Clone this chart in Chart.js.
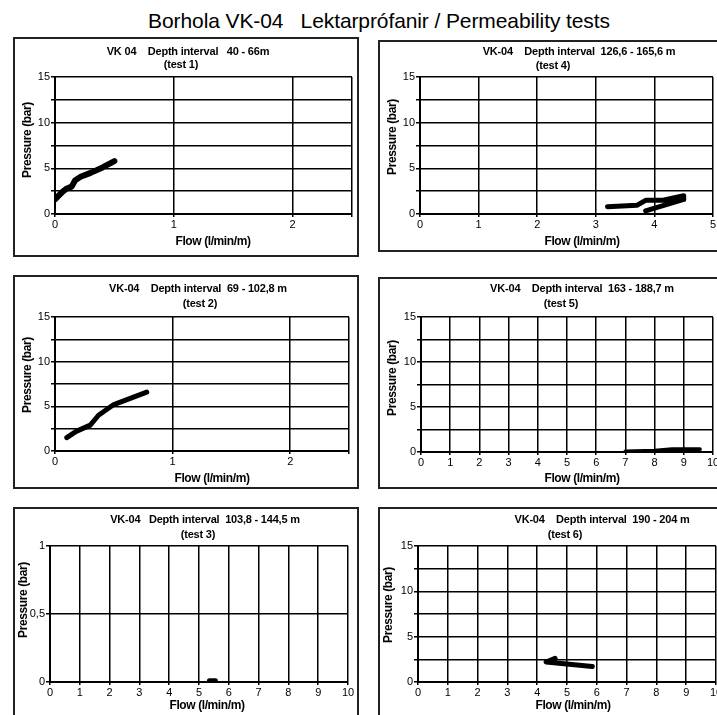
<!DOCTYPE html>
<html><head><meta charset="utf-8">
<script src="https://cdn.jsdelivr.net/npm/chart.js@4/dist/chart.umd.min.js"></script>
<style>
html,body{margin:0;padding:0;background:#fff;overflow:hidden;width:717px;height:715px;}
#page{position:relative;width:800px;height:760px;font-family:"Liberation Sans",Arial,sans-serif;color:#000;}
.box{position:absolute;}
.box canvas{position:absolute;left:0;top:0;}
.frame{position:absolute;left:0;top:0;right:0;bottom:0;border:2px solid #222;box-sizing:border-box;pointer-events:none;}
.t{position:absolute;white-space:pre;font-weight:bold;font-size:11px;line-height:1;transform:translate(-50%,-50%);letter-spacing:-0.2px;}
.xt{position:absolute;white-space:pre;font-weight:bold;font-size:12px;line-height:1;transform:translate(-50%,-50%);letter-spacing:-0.4px;}
.yt{position:absolute;white-space:pre;font-weight:bold;font-size:12px;line-height:1;transform:translate(-50%,-50%) rotate(-90deg);letter-spacing:-0.4px;}
#main{position:absolute;left:379px;top:20px;transform:translate(-50%,-50%);white-space:pre;font-size:21px;line-height:1;letter-spacing:-0.1px;}
</style>
</head><body>
<div id="page">
<div id="main">Borhola VK-04   Lektarprófanir / Permeability tests</div>
</div>
<script>
// ---- data ----
const test1Flow = [0, 0.06, 0.1, 0.14, 0.17, 0.22, 0.3, 0.4, 0.5];
const test1Pressure = [1.6, 2.4, 2.8, 3.0, 3.7, 4.1, 4.5, 5.1, 5.8];
const test2Flow = [0.1, 0.18, 0.3, 0.37, 0.5, 0.78];
const test2Pressure = [1.5, 2.2, 2.9, 4.0, 5.2, 6.6];
const test3Flow = [5.35, 5.55];
const test3Pressure = [0.01, 0.01];
const test4Flow = [3.2, 3.7, 3.85, 4.15, 4.5, 4.5, 3.85];
const test4Pressure = [0.8, 0.95, 1.5, 1.5, 2.0, 1.6, 0.35];
const test5Flow = [7.0, 8.0, 8.6, 9.55];
const test5Pressure = [0.05, 0.15, 0.3, 0.3];
const test6Flow = [4.6, 4.3, 5.85];
const test6Pressure = [2.6, 2.2, 1.7];

const titleLine1 = [
  "VK 04    Depth interval   40 - 66m",
  "VK-04    Depth interval  126,6 - 165,6 m",
  "VK-04    Depth interval  69 - 102,8 m",
  "VK-04    Depth interval  163 - 188,7 m",
  "VK-04   Depth interval  103,8 - 144,5 m",
  "VK-04    Depth interval  190 - 204 m"
];
const titleLine2 = ["(test 1)", "(test 4)", "(test 2)", "(test 5)", "(test 3)", "(test 6)"];
const xAxisTitle = "Flow (l/min/m)";
const yAxisTitle = "Pressure (bar)";
const xMaxes = [2.5, 5, 2.5, 10, 10, 10];
const yMaxes = [15, 15, 15, 15, 1, 15];
const yGridSteps = [2.5, 2.5, 2.5, 2.5, 0.5, 2.5];
const yLabelSteps = [5, 5, 5, 5, 0.5, 5];

// ---- layout ----
const panels = [
  {flow: test1Flow, p: test1Pressure, box:[13,37,346,220], plot:[42,40,339,177], t1:[188,51], t2:[181,64], yt:[27,140], xt:[213,241], lw:6},
  {flow: test4Flow, p: test4Pressure, box:[378,40,346,212], plot:[42,37,335,174], t1:[579,50.5], t2:[553,64.5], yt:[392,137], xt:[582,241], lw:5},
  {flow: test2Flow, p: test2Pressure, box:[13,275,346,214], plot:[42,42,336,176], t1:[198,288], t2:[200,302.5], yt:[27,375], xt:[212,478], lw:5},
  {flow: test5Flow, p: test5Pressure, box:[378,277,346,212], plot:[43,40,335,175], t1:[582,288], t2:[561,302.5], yt:[392,378], xt:[582,478], lw:4},
  {flow: test3Flow, p: test3Pressure, box:[13,507,346,215], plot:[37,39,335,175], t1:[205,518.5], t2:[198,534], yt:[23,600], xt:[207,705], lw:5},
  {flow: test6Flow, p: test6Pressure, box:[378,507,346,215], plot:[40,39,338,175], t1:[602,518.5], t2:[565,534], yt:[388,605], xt:[573,705], lw:5}
];

const page = document.getElementById('page');
function addText(cls, txt, x, y) {
  const d = document.createElement('div');
  d.className = cls; d.textContent = txt;
  d.style.left = x + 'px'; d.style.top = y + 'px';
  page.appendChild(d);
}
const fmt = v => String(Math.round(v * 100) / 100).replace('.', ',');

panels.forEach((pn, i) => {
  const [bl, bt, bw, bh] = pn.box;
  const [pl, pt, pr, pb] = pn.plot;
  const wrap = document.createElement('div');
  wrap.className = 'box';
  wrap.style.left = bl + 'px'; wrap.style.top = bt + 'px';
  wrap.style.width = bw + 'px'; wrap.style.height = bh + 'px';
  const cv = document.createElement('canvas');
  cv.width = bw; cv.height = bh;
  wrap.appendChild(cv);
  const fr = document.createElement('div'); fr.className = 'frame';
  wrap.appendChild(fr);
  page.appendChild(wrap);

  addText('t', titleLine1[i], pn.t1[0], pn.t1[1]);
  addText('t', titleLine2[i], pn.t2[0], pn.t2[1]);
  addText('yt', yAxisTitle, pn.yt[0], pn.yt[1]);
  addText('xt', xAxisTitle, pn.xt[0], pn.xt[1]);

  const pts = pn.flow.map((x, k) => ({x: x, y: pn.p[k]}));
  const ls = yLabelSteps[i];
  new Chart(cv, {
    type: 'line',
    data: {datasets: [{data: pts, borderColor: '#000', backgroundColor: '#000', borderWidth: pn.lw,
      pointRadius: 0, tension: 0, fill: false, borderCapStyle: 'round', borderJoinStyle: 'round'}]},
    options: {
      responsive: false, animation: false, devicePixelRatio: 1,
      layout: {padding: {top: pt, right: bw - pr, left: 0, bottom: 0}},
      plugins: {legend: {display: false}, tooltip: {enabled: false}, title: {display: false}},
      scales: {
        x: {type: 'linear', min: 0, max: xMaxes[i],
          grid: {color: '#000', lineWidth: 1.5, tickLength: 3},
          border: {color: '#000', width: 2},
          ticks: {stepSize: 1, autoSkip: false, maxRotation: 0, color: '#000', padding: 1,
            font: {family: 'Liberation Sans', size: 11},
            callback: v => Number.isInteger(v) ? String(v) : ''},
          afterFit: s => { s.height = bh - pb; }
        },
        y: {type: 'linear', min: 0, max: yMaxes[i],
          grid: {color: '#000', lineWidth: 1.5, tickLength: 4},
          border: {color: '#000', width: 2},
          ticks: {stepSize: yGridSteps[i], autoSkip: false, color: '#000', padding: 1,
            font: {family: 'Liberation Sans', size: 11},
            callback: v => (Math.abs(v / ls - Math.round(v / ls)) < 1e-6 ? fmt(v) : '')},
          afterFit: s => { s.width = pl; }
        }
      }
    }
  });
});
</script>
</body></html>
